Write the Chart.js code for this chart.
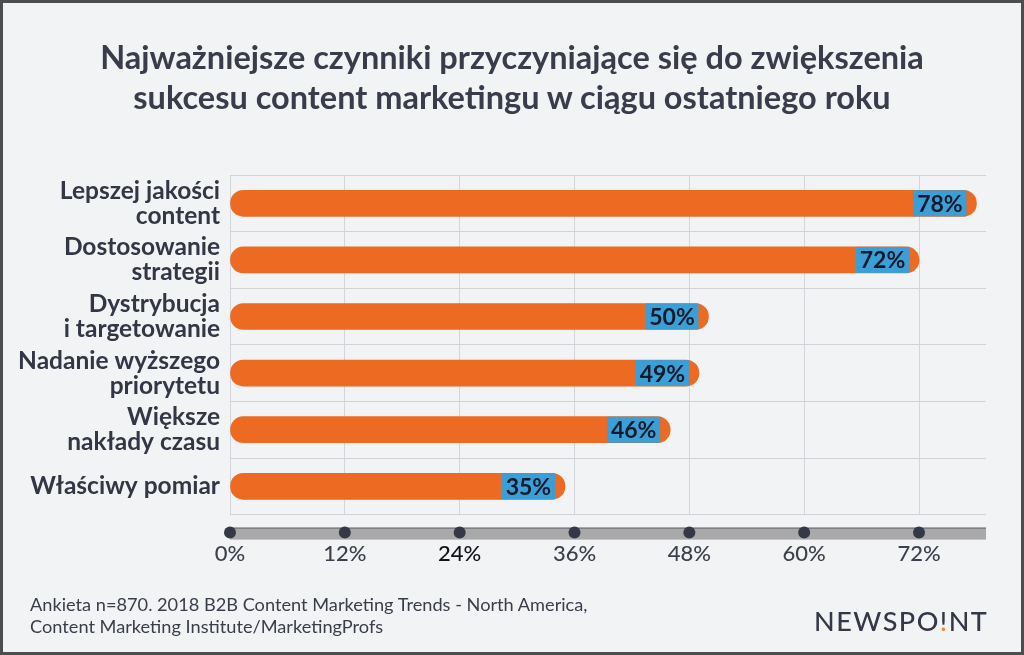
<!DOCTYPE html>
<html lang="pl">
<head>
<meta charset="utf-8">
<title>Najważniejsze czynniki sukcesu content marketingu</title>
<script src="https://cdn.jsdelivr.net/npm/chart.js@4/dist/chart.umd.min.js"></script>
<style>
  html, body { margin: 0; padding: 0; }
  body { width: 1024px; height: 655px; background: #f2f3f5; position: relative; overflow: hidden; font-family: Lato, "Open Sans", sans-serif; }
  #frame { position: absolute; left: 0; top: 0; width: 1018px; height: 649px; border: 3px solid #4d4d50; pointer-events: none; }
  #chart { position: absolute; left: 0; top: 0; }
  .title { position: absolute; left: 0; top: 37px; width: 1024px; text-align: center; font-weight: 700; font-size: 32.5px; line-height: 40px; color: #393c4a; }
  .source { position: absolute; left: 30px; top: 593px; font-size: 18.2px; line-height: 22px; color: #3a3d4a; }
  .logo { position: absolute; left: 814px; top: 604px; font-size: 27px; font-weight: 500; letter-spacing: 1.5px; color: #343745; }
  .logo .dot { background: linear-gradient(#343745 70%, #f08a3c 70%); -webkit-background-clip: text; background-clip: text; color: transparent; }
</style>
</head>
<body>
<canvas id="chart" width="1024" height="655"></canvas>
<div class="title">Najważniejsze czynniki przyczyniające się do zwiększenia<br>sukcesu content marketingu w ciągu ostatniego roku</div>
<div class="source">Ankieta n=870. 2018 B2B Content Marketing Trends - North America,<br>Content Marketing Institute/MarketingProfs</div>
<div class="logo">NEWSPO<span class="dot">!</span>NT</div>
<div id="frame"></div>
<script>
// data
const categories = [
  ["Lepszej jakości", "content"],
  ["Dostosowanie", "strategii"],
  ["Dystrybucja", "i targetowanie"],
  ["Nadanie wyższego", "priorytetu"],
  ["Większe", "nakłady czasu"],
  "Właściwy pomiar",
];
const values = [78, 72, 50, 49, 46, 35];
const tickValues = [0, 12, 24, 36, 48, 60, 72];

const orange = "#ec6a21";
const blue = "#3a9fd6";

// blue box with the percentage near the end of each bar
const labelBoxes = {
  id: "labelBoxes",
  afterDatasetsDraw(chart) {
    const ctx = chart.ctx;
    const meta = chart.getDatasetMeta(0);
    ctx.save();
    meta.data.forEach(function (bar, i) {
      const h = bar.height;
      const right = bar.x - 10;
      const w = 53;
      ctx.fillStyle = blue;
      ctx.fillRect(right - w, bar.y - h / 2, w, h);
      ctx.fillStyle = "#141a2b";
      ctx.font = "bold 23px Lato";
      ctx.textAlign = "center";
      ctx.textBaseline = "middle";
      ctx.fillText(values[i] + "%", right - w / 2, bar.y + 1);
    });
    ctx.restore();
  },
};

// grey axis band with dots under the plot
const axisBand = {
  id: "axisBand",
  afterDraw(chart) {
    const ctx = chart.ctx;
    const area = chart.chartArea;
    const x = chart.scales.x;
    const y0 = area.bottom + 13;
    ctx.save();
    ctx.fillStyle = "#a9a9aa";
    ctx.fillRect(area.left, y0, area.right - area.left, 12);
    ctx.strokeStyle = "#66676b";
    ctx.lineWidth = 1;
    ctx.beginPath();
    ctx.moveTo(area.left, y0 + 0.5);
    ctx.lineTo(area.right, y0 + 0.5);
    ctx.stroke();
    ctx.fillStyle = "#353847";
    tickValues.forEach(function (t) {
      ctx.beginPath();
      ctx.arc(x.getPixelForValue(t), y0 + 5, 6, 0, Math.PI * 2);
      ctx.fill();
    });
    ctx.restore();
  },
};

new Chart(document.getElementById("chart"), {
  type: "bar",
  data: {
    labels: categories,
    datasets: [
      {
        data: values,
        backgroundColor: orange,
        barThickness: 26,
        borderRadius: 13,
        borderSkipped: false,
      },
    ],
  },
  options: {
    indexAxis: "y",
    responsive: false,
    animation: false,
    devicePixelRatio: 1,
    layout: { padding: { top: 175, right: 38, bottom: 62, left: 0 } },
    plugins: { legend: { display: false }, tooltip: { enabled: false } },
    scales: {
      x: {
        min: 0,
        max: 79,
        afterBuildTicks(scale) {
          scale.ticks = tickValues.map((v) => ({ value: v }));
        },
        grid: { color: "#d3d5da", borderDash: [1, 2], drawTicks: false },
        border: { display: false },
        ticks: {
          padding: 26,
          font: { family: "Lato", size: 22, weight: "500" },
          color: (c) => (c.index === 2 ? "#111318" : "#3c3f4c"),
          callback: (v) => v + "%",
        },
      },
      y: {
        afterFit(scale) {
          scale.width = 230;
        },
        grid: { offset: true, color: "#d0d2d7", borderDash: [3, 3], drawTicks: false },
        border: { display: false },
        ticks: {
          padding: 10,
          font: { family: "Lato", size: 24.5, weight: "bold", lineHeight: 1.02 },
          color: "#333645",
        },
      },
    },
  },
  plugins: [labelBoxes, axisBand],
});
</script>
</body>
</html>
